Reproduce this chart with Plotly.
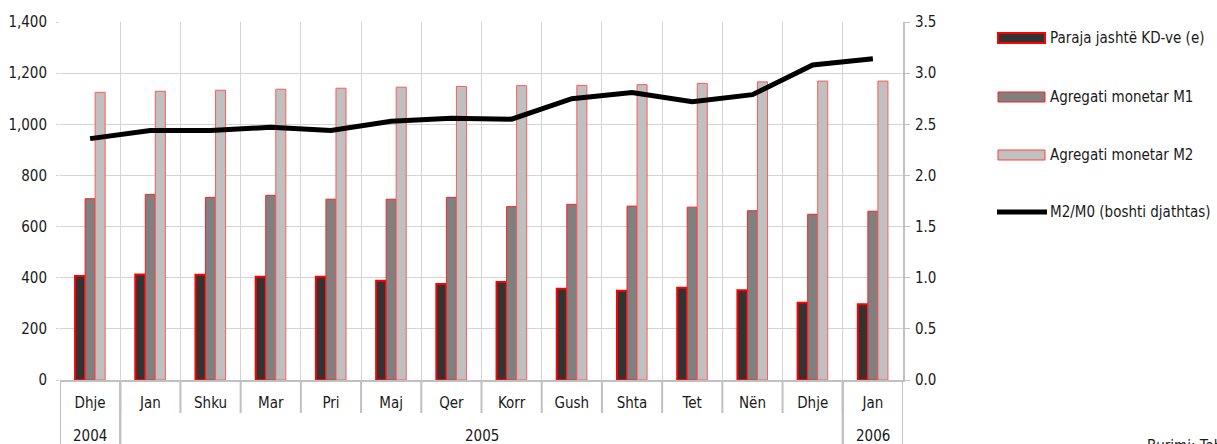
import plotly.graph_objects as go

# categories (year / month)
years = ["2004", "2005", "2005", "2005", "2005", "2005", "2005", "2005",
         "2005", "2005", "2005", "2005", "2005", "2006"]
months = ["Dhje", "Jan", "Shku", "Mar", "Pri", "Maj", "Qer", "Korr",
          "Gush", "Shta", "Tet", "Nën", "Dhje", "Jan"]

# series values
paraja = [407, 413, 412, 404, 404, 388, 375, 383, 357, 349, 361, 351, 302, 296]
m1 = [709, 726, 714, 722, 707, 707, 714, 678, 687, 680, 676, 662, 648, 660]
m2 = [1125, 1129, 1133, 1137, 1141, 1145, 1148, 1151, 1152, 1155, 1160, 1166, 1169, 1169]
m2_m0 = [2.36, 2.44, 2.44, 2.47, 2.44, 2.53, 2.56, 2.55, 2.75, 2.81, 2.72, 2.79, 3.08, 3.14]

names = ["Paraja jashtë KD-ve (e)", "Agregati monetar M1",
         "Agregati monetar M2", "M2/M0 (boshti djathtas)"]

FONT = "DejaVu Sans Condensed"
FS = 15
TXT = "#1a1a1a"
AXIS = "#c0c0c0"

W, H = 1217, 444
L, R, T, B = 60, 314, 22, 64
pw, ph = W - L - R, H - T - B


def px(xp):
    return (xp - L) / pw


def py(yp):
    return (H - B - yp) / ph


# unique category keys, months shown as tick text
keys = [f"{m} {y}" for m, y in zip(months, years)]

fig = go.Figure()
fig.add_trace(go.Bar(
    x=keys, y=paraja, name=names[0],
    marker=dict(color="#333333", line=dict(color="#ff0000", width=2)),
))
fig.add_trace(go.Bar(
    x=keys, y=m1, name=names[1],
    marker=dict(color="#808080", line=dict(color="#ff2020", width=1)),
))
fig.add_trace(go.Bar(
    x=keys, y=m2, name=names[2],
    marker=dict(color="#c0c0c0", line=dict(color="#ff5a5a", width=1)),
))
fig.add_trace(go.Scatter(
    x=keys, y=m2_m0, name=names[3], yaxis="y2",
    mode="lines", line=dict(color="#000000", width=5),
))

shapes = []
annotations = []

# month separators under the axis
for k in range(len(keys) + 1):
    shapes.append(dict(type="line", xref="x", yref="paper",
                       x0=k - 0.5, x1=k - 0.5, y0=0, y1=py(413),
                       line=dict(color=AXIS, width=2)))

# year groups: label in the middle, long dividers at the edges
start = 0
for i in range(1, len(years) + 1):
    if i == len(years) or years[i] != years[start]:
        annotations.append(dict(text=years[start], xref="x", yref="paper",
                                x=(start + i - 1) / 2, y=py(436),
                                xanchor="center", yanchor="middle", showarrow=False,
                                font=dict(family=FONT, size=FS, color=TXT)))
        for xb in (start - 0.5, i - 0.5):
            shapes.append(dict(type="line", xref="x", yref="paper",
                               x0=xb, x1=xb, y0=0, y1=py(H + 2),
                               line=dict(color=AXIS, width=2)))
        start = i

# legend drawn like the original (wide swatches)
swatches = [("#333333", "#ff0000", 2), ("#808080", "#ff2020", 1), ("#c0c0c0", "#ff4040", 1)]
rows = [38, 97, 155, 212]
for i, (fill, edge, lw) in enumerate(swatches):
    shapes.append(dict(type="rect", xref="paper", yref="paper",
                       x0=px(998), x1=px(1045), y0=py(rows[i] + 5), y1=py(rows[i] - 5),
                       fillcolor=fill, line=dict(color=edge, width=lw)))
shapes.append(dict(type="line", xref="paper", yref="paper",
                   x0=px(997), x1=px(1047), y0=py(rows[3]), y1=py(rows[3]),
                   line=dict(color="#000000", width=5)))
for i, n in enumerate(names):
    annotations.append(dict(text=n, xref="paper", yref="paper",
                            x=px(1048), y=py(rows[i]), xanchor="left", yanchor="middle",
                            showarrow=False, font=dict(family=FONT, size=FS, color=TXT)))
annotations.append(dict(text="Burimi: Tabela", xref="paper", yref="paper",
                        x=px(1145), y=py(446), xanchor="left", yanchor="middle",
                        showarrow=False, font=dict(family=FONT, size=FS, color=TXT)))

fig.update_layout(
    width=W, height=H,
    margin=dict(l=L, r=R, t=T, b=B, autoexpand=False),
    paper_bgcolor="white", plot_bgcolor="white",
    font=dict(family=FONT, size=FS, color=TXT),
    barmode="group", bargap=0.5, bargroupgap=0,
    showlegend=False,
    xaxis=dict(
        type="category", tickmode="array", tickvals=keys, ticktext=months,
        range=[-0.5, len(keys) - 0.5],
        showgrid=True, gridcolor="#d4d4d4", gridwidth=1,
        showline=True, linecolor=AXIS, linewidth=2,
        ticks="", tickson="boundaries", ticklabelstandoff=8,
        tickfont=dict(family=FONT, size=FS, color=TXT),
    ),
    yaxis=dict(
        range=[0, 1400], dtick=200, tickformat=",",
        showgrid=True, gridcolor="#d4d4d4", gridwidth=1,
        zeroline=False, showline=False,
        ticks="outside", ticklen=3, tickcolor="#d4d4d4",
        ticklabelstandoff=6,
        tickfont=dict(family=FONT, size=FS, color=TXT),
    ),
    yaxis2=dict(
        overlaying="y", side="right",
        range=[0, 3.5], dtick=0.5, tickformat=".1f",
        showgrid=False, zeroline=False,
        showline=True, linecolor=AXIS, linewidth=2,
        ticks="outside", ticklen=5, tickcolor=AXIS,
        ticklabelstandoff=2,
        tickfont=dict(family=FONT, size=FS, color=TXT),
    ),
    shapes=shapes,
    annotations=annotations,
)

fig.write_html("out.html", config={"displayModeBar": False},
               post_script="document.body.style.margin='0';document.body.style.overflow='hidden';")
